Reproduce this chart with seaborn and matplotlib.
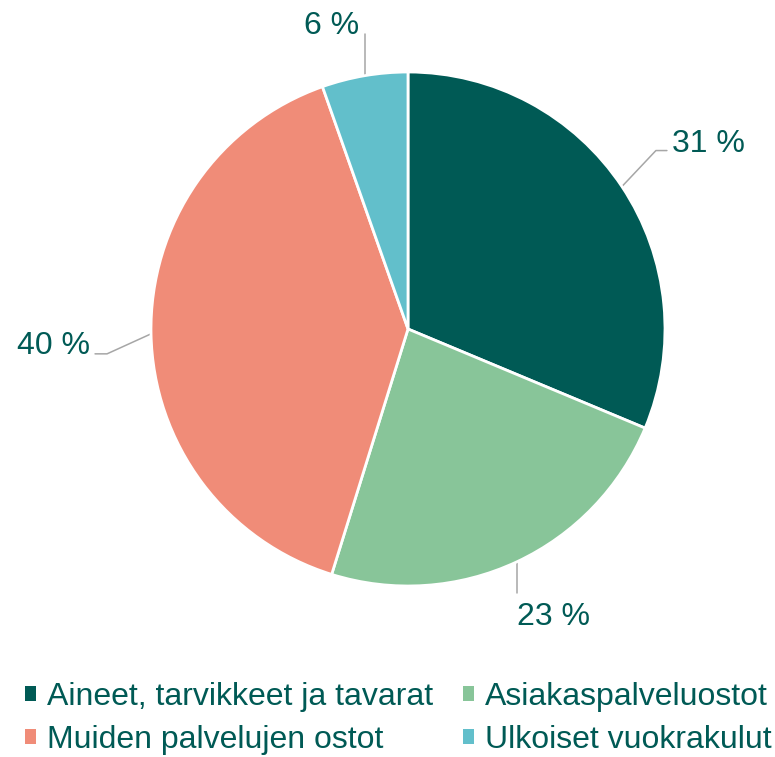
import numpy as np
import matplotlib
matplotlib.use("Agg")
import matplotlib.pyplot as plt
import seaborn as sns
from matplotlib.patches import Patch

# data
categories = ["Aineet, tarvikkeet ja tavarat", "Asiakaspalveluostot",
              "Muiden palvelujen ostot", "Ulkoiset vuokrakulut"]
shares = [31.3, 23.5, 39.8, 5.4]
pct_labels = ["31 %", "23 %", "40 %", "6 %"]
colors = ["#005A55", "#88C599", "#F08C78", "#62BFCB"]

text_color = "#005A55"
line_color = "#A6A6A6"

sns.set_theme(style="white")
plt.rcParams["font.family"] = ["Liberation Sans", "DejaVu Sans"]

W, H = 775, 757
fig = plt.figure(figsize=(W / 100, H / 100), dpi=100)

cx, cy, r = 408, 329, 257
ax = fig.add_axes([(cx - r) / W, (H - cy - r) / H, 2 * r / W, 2 * r / H])

wedges, _ = ax.pie(shares, colors=colors, startangle=90, counterclock=False,
                   radius=1, wedgeprops=dict(edgecolor="white", linewidth=2))
ax.set_xlim(-1, 1)
ax.set_ylim(-1, 1)
ax.set_aspect("equal")
ax.axis("off")

# leader lines: offsets in pixels (dx right, dy up) from the wedge's mid point
leaders = [
    dict(path=[(0, 0), (34, 36), (45, 36)], text=(50, 35), ha="left"),
    dict(path=[(0, 0), (0, -31)], text=(0, -63), ha="left"),
    dict(path=[(0, 0), (-44, -20), (-56, -20)], text=(-61, -20), ha="right"),
    dict(path=[(0, 0), (0, 42)], text=(-5, 42), ha="right"),
]

for w, lab, ld in zip(wedges, pct_labels, leaders):
    ang = np.deg2rad((w.theta1 + w.theta2) / 2)
    x0, y0 = np.cos(ang), np.sin(ang)
    xs = [x0 + dx / r for dx, dy in ld["path"]]
    ys = [y0 + dy / r for dx, dy in ld["path"]]
    ax.plot(xs, ys, color=line_color, lw=1.1, clip_on=False, zorder=0)
    tx, ty = ld["text"]
    ax.text(x0 + tx / r, y0 + ty / r, lab, ha=ld["ha"], va="baseline",
            fontsize=23, color=text_color, clip_on=False)

order = [0, 2, 1, 3]
handles = [Patch(facecolor=colors[i], edgecolor="none") for i in order]
fig.legend(handles, [categories[i] for i in order], ncol=2, loc="center",
           bbox_to_anchor=(0.514, 0.051), frameon=False, fontsize=23,
           labelcolor=text_color, handlelength=0.35, handleheight=0.35,
           handletextpad=0.34, columnspacing=0.94, labelspacing=0.41,
           borderaxespad=0, borderpad=0)

fig.savefig("out.png", dpi=100)
